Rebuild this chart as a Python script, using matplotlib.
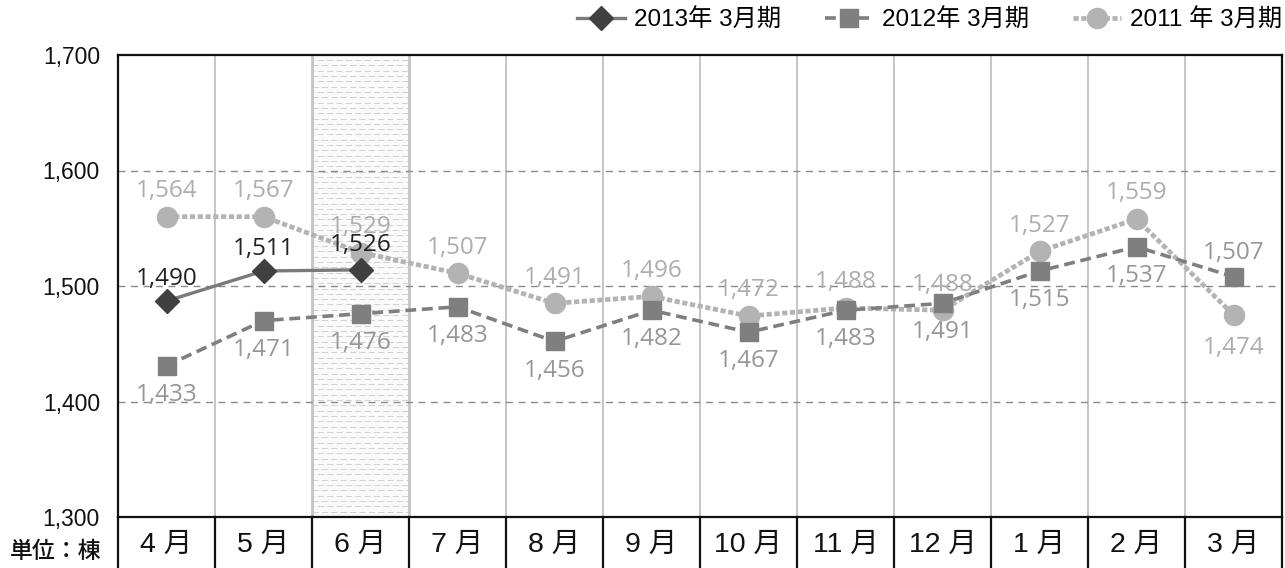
import matplotlib
matplotlib.use("Agg")
import matplotlib.pyplot as plt
import matplotlib.transforms as mtransforms
import numpy as np

# --- Data ---
months = ["4 月", "5 月", "6 月", "7 月", "8 月", "9 月",
          "10 月", "11 月", "12 月", "1 月", "2 月", "3 月"]

# plotted marker positions
fy2013 = [1487, 1513, 1514]
fy2012 = [1431, 1470, 1476, 1482, 1452, 1479, 1460, 1479, 1485, 1513, 1534, 1508]
fy2011 = [1560, 1560, 1529, 1511, 1485, 1491, 1474, 1481, 1479, 1530, 1558, 1475]

# data labels as printed on the chart
fy2013_labels = [1490, 1511, 1526]
fy2012_labels = [1433, 1471, 1476, 1483, 1456, 1482, 1467, 1483, 1491, 1515, 1537, 1507]
fy2011_labels = [1564, 1567, 1529, 1507, 1491, 1496, 1472, 1488, 1488, 1527, 1559, 1474]

legend_names = ["2013年 3月期", "2012年 3月期", "2011 年 3月期"]
yticks = [1300, 1400, 1500, 1600, 1700]

latin_jp = ["Liberation Sans", "Noto Sans CJK JP"]

# --- Figure ---
fig = plt.figure(figsize=(12.85, 5.68), dpi=100)
ax = fig.add_axes([118 / 1285, 51 / 568, 1164 / 1285, 462 / 568])
ax.set_xlim(-0.5, 11.5)
ax.set_ylim(1300, 1700)

# shaded 6月 column with staggered dashed pattern
ax.axvspan(1.5, 2.5, color="#fafafa", zorder=0)
step = 4.6
for i, yy in enumerate(np.arange(1300 + step, 1700, step)):
    off = 0.0 if i % 2 == 0 else 4.0
    ax.plot([1.5, 2.5], [yy, yy], color="#d2d2d2", lw=0.75,
            linestyle=(off, (6.0, 3.0)), dash_capstyle="butt", zorder=0.5)
for xb in (1.5, 2.5):
    ax.axvline(xb, color="#c4c4c4", lw=2, zorder=1)

# vertical category gridlines
for xb in np.arange(0.5, 11.5, 1.0):
    if xb in (1.5, 2.5):
        continue
    ax.axvline(xb, color="#c0c0c0", lw=1.3, zorder=1)

# horizontal dashed gridlines
for yv in yticks[1:-1]:
    ax.axhline(yv, color="#8a8a8a", lw=1.0, dashes=(5, 4), zorder=1)

x_all = np.arange(len(months))

# series (2011 bottom, 2013 top)
ax.plot(x_all, fy2011, color="#b3b3b3", lw=3.4, dashes=(1.1, 0.55),
        dash_capstyle="butt", marker="o", markersize=14.5,
        markerfacecolor="#b3b3b3", markeredgecolor="#b3b3b3",
        label=legend_names[2], zorder=3)
ax.plot(x_all, fy2012, color="#7f7f7f", lw=2.6, dashes=(3.0, 1.6),
        dash_capstyle="butt", marker="s", markersize=13,
        markerfacecolor="#7f7f7f", markeredgecolor="#7f7f7f",
        label=legend_names[1], zorder=4)
ax.plot(x_all[:len(fy2013)], fy2013, color="#7a7a7a", lw=2.4,
        marker="D", markersize=12, markerfacecolor="#404040",
        markeredgecolor="#404040", label=legend_names[0], zorder=5)

# data labels
lab_font = dict(family="Open Sans", fontsize=17.5, ha="center", va="center", zorder=6)


def put_labels(vals, labels, color, offsets):
    for i, (v, t) in enumerate(zip(vals, labels)):
        ax.annotate(f"{t:,}", (i, v), xytext=(0, offsets[i]),
                    textcoords="offset points", color=color, **lab_font)


put_labels(fy2011, fy2011_labels, "#adadad", [18.5] * 11 + [-24])
put_labels(fy2012, fy2012_labels, "#969696", [-21] * 11 + [17])
put_labels(fy2013, fy2013_labels, "#222222", [16, 15.5, 18])

# axes styling
ax.set_xticks([])
ax.set_yticks(yticks)
ax.set_yticklabels([f"{v:,}" for v in yticks], family="Liberation Sans",
                   fontsize=16.5, color="#111111")
ax.tick_params(axis="y", length=0, pad=13)
for side in ("top", "left", "right", "bottom"):
    ax.spines[side].set_color("#111111")
    ax.spines[side].set_linewidth(1.6)
    ax.spines[side].set_zorder(7)

# month table below the plot
trans = mtransforms.blended_transform_factory(ax.transData, ax.transAxes)
tbl_bottom = -51 / 462
for xb in np.arange(-0.5, 12.0, 1.0):
    ax.plot([xb, xb], [0, tbl_bottom], transform=trans, color="#111111",
            lw=1.6, clip_on=False)
for i, m in enumerate(months):
    ax.text(i, -28 / 462, m, transform=trans, ha="center", va="center",
            family=latin_jp, fontsize=20.5, color="#111111")

fig.text(10 / 1285, 1 - 552 / 568, "単位：棟", family=["Noto Sans CJK JP"],
         fontsize=16.5, fontweight="medium", ha="left", va="center", color="#111111")

# legend
handles, labels = ax.get_legend_handles_labels()
order = [2, 1, 0]
leg = fig.legend([handles[k] for k in order], [labels[k] for k in order],
                 loc="center right", bbox_to_anchor=(1282 / 1285, 1 - 20 / 568),
                 ncol=3, frameon=False, handlelength=2.0, handletextpad=0.35,
                 columnspacing=1.8, borderpad=0, borderaxespad=0,
                 prop={"family": latin_jp, "size": 17.5})

fig.savefig("out.png", dpi=100)
